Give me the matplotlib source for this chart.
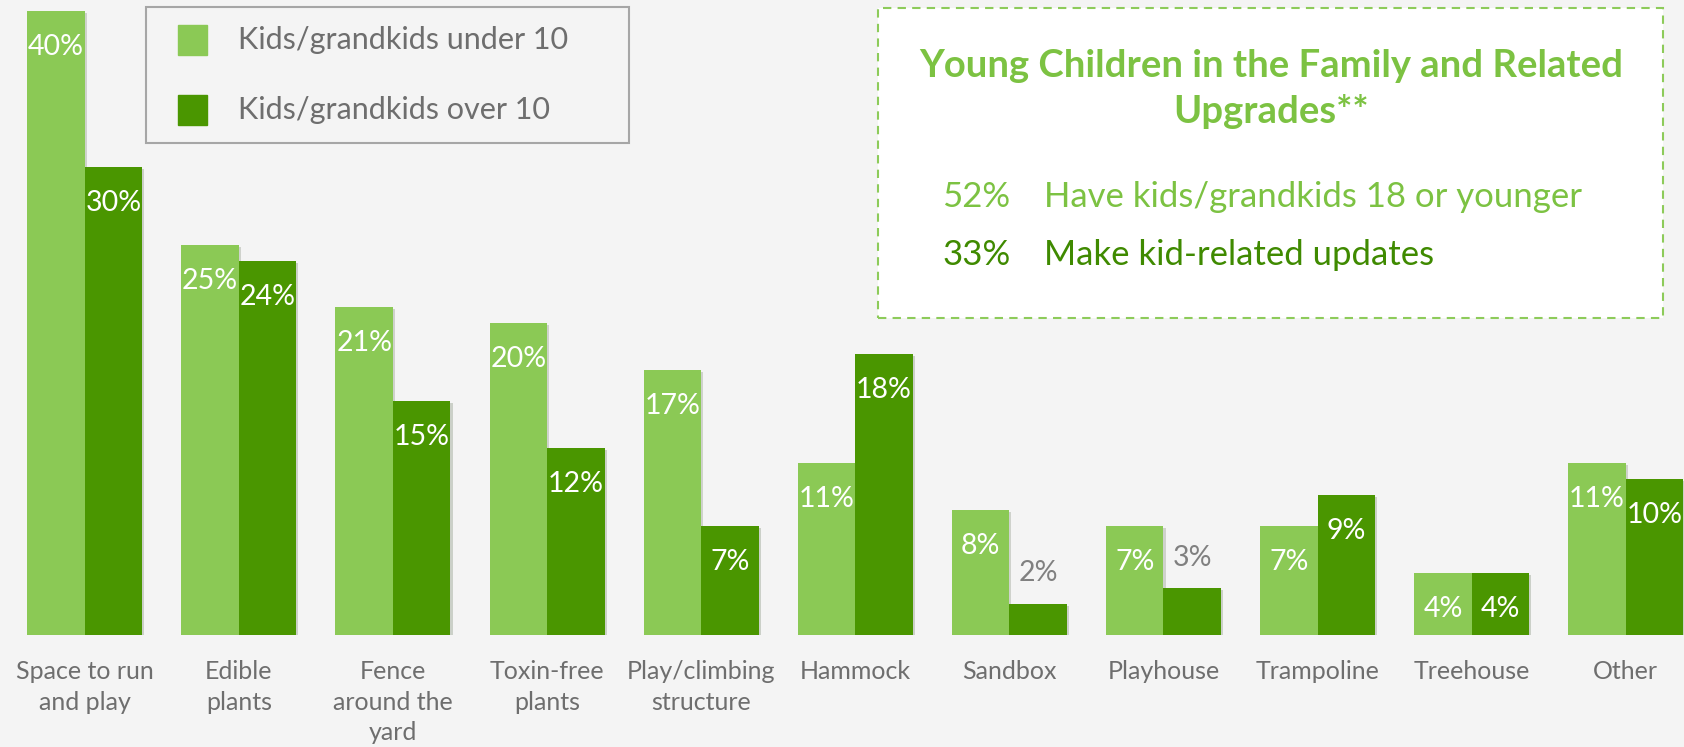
import matplotlib.pyplot as plt
import matplotlib.patheffects as pe
from matplotlib.patches import Rectangle
import numpy as np

categories = ["Space to run\nand play", "Edible\nplants", "Fence\naround the\nyard",
              "Toxin-free\nplants", "Play/climbing\nstructure", "Hammock", "Sandbox",
              "Playhouse", "Trampoline", "Treehouse", "Other"]
under10 = [40, 25, 21, 20, 17, 11, 8, 7, 7, 4, 11]
over10 = [30, 24, 15, 12, 7, 18, 2, 3, 9, 4, 10]
series_names = ["Kids/grandkids under 10", "Kids/grandkids over 10"]

info_title = "Young Children in the Family and Related\nUpgrades**"
info_pcts = ["52%", "33%"]
info_texts = ["Have kids/grandkids 18 or younger", "Make kid-related updates"]

light = "#8bc955"
dark = "#4a9600"
bg = "#f4f4f4"
grey = "#6e6e6e"

plt.rcParams['font.family'] = ['Lato', 'DejaVu Sans']

W, H = 1684, 747
fig = plt.figure(figsize=(W / 100, H / 100), dpi=100)
fig.patch.set_facecolor(bg)

ax = fig.add_axes([0, 112 / H, 1, 635 / H])
ax.set_facecolor(bg)
x = np.arange(len(categories))
w = 0.373
ax.set_xlim(-0.55, 10.378)
ax.set_ylim(0, 40.7)

shadow = [pe.SimplePatchShadow(offset=(1.5, -1.5), alpha=0.18), pe.Normal()]
b1 = ax.bar(x - w / 2, under10, w, color=light, label=series_names[0])
b2 = ax.bar(x + w / 2, over10, w, color=dark, label=series_names[1])
for b in list(b1) + list(b2):
    b.set_path_effects(shadow)

lab = dict(ha="center", va="center", fontsize=20.5, textcoords="offset points")
for xi, v in zip(x - w / 2, under10):
    ax.annotate(f"{v}%", (xi, v), xytext=(0, -26), color="white", **lab)
for xi, v in zip(x + w / 2, over10):
    if v < 4:
        ax.annotate(f"{v}%", (xi, v), xytext=(0, 22), color="#808080", **lab)
    else:
        ax.annotate(f"{v}%", (xi, v), xytext=(0, -26), color="white", **lab)

ax.set_xticks(x)
ax.set_xticklabels(categories, fontsize=18, color=grey, linespacing=1.4)
ax.tick_params(axis="x", length=0, pad=18)
ax.set_yticks([])
for s in ax.spines.values():
    s.set_visible(False)

# legend with its own frame
fig.add_artist(Rectangle((146 / W, 1 - 143 / H), 483 / W, 135.5 / H,
                         transform=fig.transFigure, facecolor=bg,
                         edgecolor="#a6a6a6", lw=1.5))
for i, (c, name) in enumerate(zip([light, dark], series_names)):
    yc = 40 + 70 * i
    fig.add_artist(Rectangle((178 / W, 1 - (yc + 14.5) / H), 29 / W, 29 / H,
                             transform=fig.transFigure, color=c))
    fig.text(238 / W, 1 - yc / H, name, fontsize=22, color=grey, va="center")

# info box
fig.add_artist(Rectangle((878 / W, 1 - 318 / H), 785 / W, 309.5 / H,
                         transform=fig.transFigure, facecolor="white",
                         edgecolor="#8dcb5a", lw=1.5, linestyle=(0, (4, 3))))
fig.text(1271 / W, 1 - 89 / H, info_title, ha="center", va="center",
         fontsize=27.5, color="#7cc242", fontweight="bold", linespacing=1.4)
for i, (p, t, c) in enumerate(zip(info_pcts, info_texts, ["#7cc242", "#3f8a00"])):
    yc = 197 + 58 * i
    fig.text(942 / W, 1 - yc / H, p, fontsize=25, color=c, va="center")
    fig.text(1044 / W, 1 - yc / H, t, fontsize=25, color=c, va="center")

fig.savefig("out.png", dpi=100, facecolor=bg)
